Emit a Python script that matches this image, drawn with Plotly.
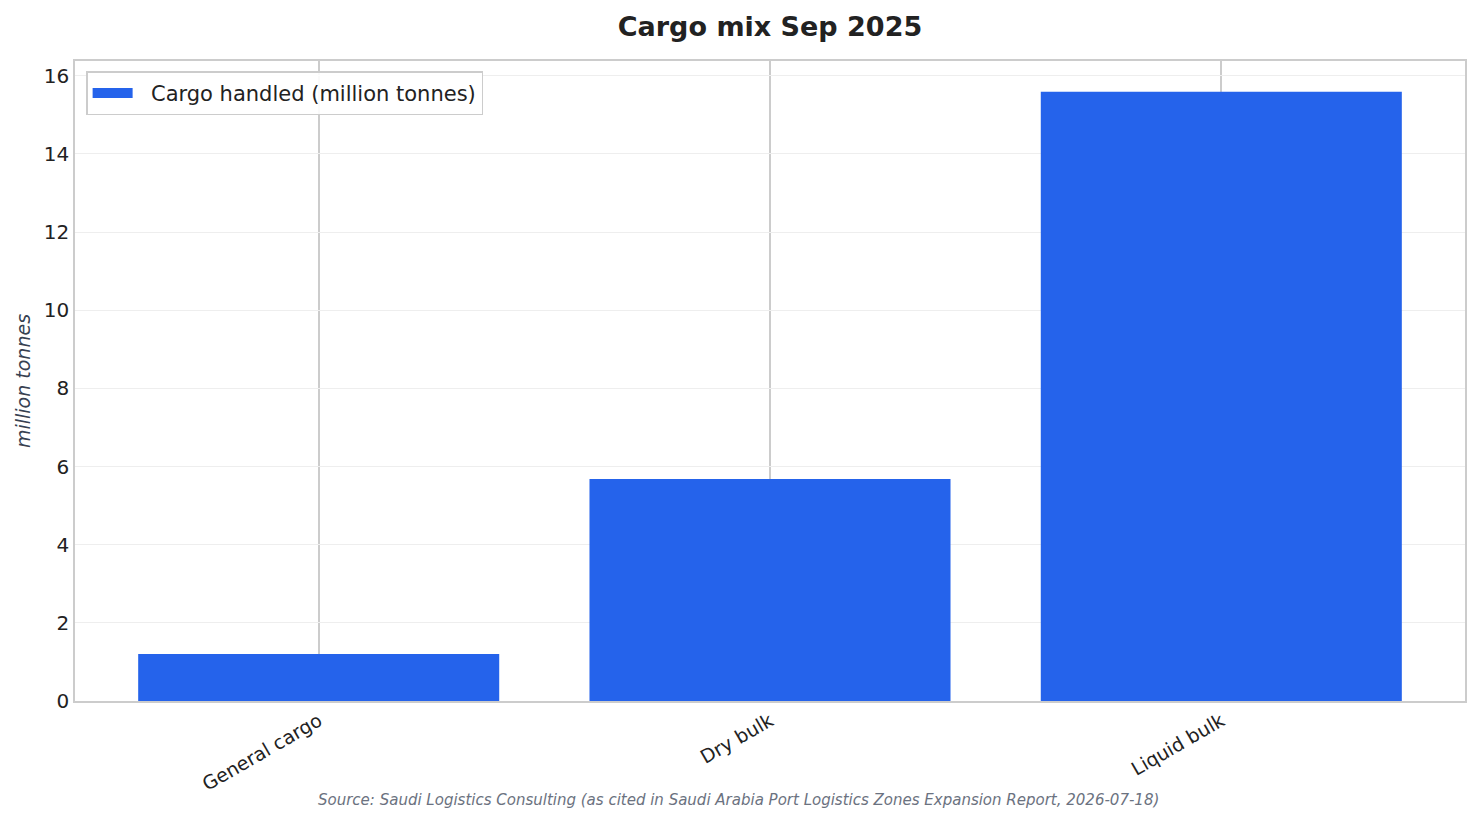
import plotly.graph_objects as go

categories = ['General cargo', 'Dry bulk', 'Liquid bulk']
cargo_mt = [1.2, 5.68, 15.59]
y_ticks = [0, 2, 4, 6, 8, 10, 12, 14, 16]

FONT = 'DejaVu Sans'
BLUE = '#2563eb'

# the page body adds an 8px margin, so the figure is drawn 16px smaller
fig = go.Figure()
fig.add_trace(go.Bar(
    x=categories, y=cargo_mt,
    marker=dict(color=BLUE, line=dict(width=0)),
    width=0.8, showlegend=False,
))
# legend entry only: a thick line looks like the wide patch of the original
fig.add_trace(go.Scatter(
    x=[None], y=[None], mode='lines',
    name='\u00a0\u00a0Cargo handled (million tonnes)',
    line=dict(color=BLUE, width=13),
))

fig.update_layout(
    width=1465, height=808,
    margin=dict(l=67, r=6, t=53, b=115),
    paper_bgcolor='white', plot_bgcolor='white',
    font=dict(family=FONT, color='#222222', size=17),
    title=dict(text='<b>Cargo mix Sep 2025</b>', xref='paper', x=0.5,
               xanchor='center', y=0.9765, yanchor='middle',
               font=dict(size=27, color='#222222')),
    showlegend=True,
    legend=dict(x=0.008, y=0.984, xanchor='left', yanchor='top',
                bgcolor='rgba(255,255,255,0.9)', bordercolor='#cccccc',
                borderwidth=1.5, font=dict(size=21), itemwidth=40),
    annotations=[dict(
        text='Source: Saudi Logistics Consulting (as cited in Saudi Arabia Port '
             'Logistics Zones Expansion Report, 2026-07-18)',
        xref='paper', yref='paper', x=0.477, y=-0.1547,
        xanchor='center', yanchor='middle', showarrow=False,
        font=dict(size=15, color='#6b7280', family=FONT, style='italic'))],
)

fig.update_xaxes(
    range=[-0.54, 2.54], tickangle=-30,
    showgrid=True, gridcolor='#cccccc', gridwidth=1.5,
    showline=True, linecolor='#cccccc', linewidth=1.5, mirror=True,
    ticks='', tickfont=dict(size=19, color='#222222'),
)
fig.update_yaxes(
    range=[0, 16.38], tickvals=y_ticks,
    showgrid=True, gridcolor='#eeeeee', gridwidth=1,
    zeroline=False,
    showline=True, linecolor='#cccccc', linewidth=1.5, mirror=True,
    ticks='', tickfont=dict(size=20, color='#222222'),
    title=dict(text='million tonnes', standoff=8,
               font=dict(size=19, color='#374151', style='italic')),
)

fig.write_html('out.html')
